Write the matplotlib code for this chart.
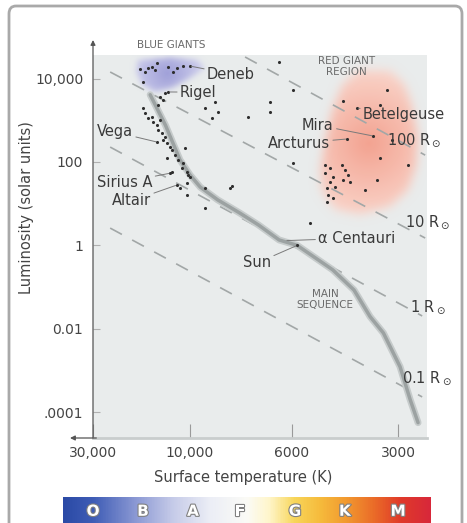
import numpy as np
import matplotlib
matplotlib.use('Agg')
import matplotlib.pyplot as plt
import matplotlib.patheffects as pe
from matplotlib.path import Path
from matplotlib.patches import FancyBboxPatch
from matplotlib.ticker import NullLocator
from matplotlib.colors import LinearSegmentedColormap, to_rgb

# ---------------- data ----------------
# field stars: surface temperature (K) and luminosity (solar units)
star_temp = [17600, 16600, 16100, 15400, 14500, 14900, 12800, 12100, 11600, 10800, 17000,
             14100, 13300, 13600, 14400,
             17000, 16600, 16100, 15400, 15200, 14500, 14100, 14400, 13700, 13600,
             13000, 12500, 13300, 12300, 11900, 11500, 13000, 12300, 10800, 10600,
             10300, 10900, 10000, 11200, 10300, 10300, 9270, 8180, 9270, 10200,
             9270, 8960, 8830, 8690, 7480, 6700, 6700, 6400, 5950, 5950, 8100,
             3220, 4300, 3370, 3120, 3370, 2810, 3440, 3720,
             4830, 4680, 4830, 4600, 4680, 4240, 4160, 4300, 4100, 4770, 4530, 4740,
             4770, 4600, 4330, 5330]
star_lum = [17000, 14400, 17900, 19000, 23700, 16100, 19000, 14400, 17900, 20000, 8300,
            3620, 4520, 3070, 2330,
            1970, 1500, 1135, 1200, 910, 770, 1015, 585, 495, 337,
            286, 229, 398, 194, 147, 112, 125, 58, 95, 217,
            58, 72, 44, 24, 31, 16, 24, 24, 7.9, 49,
            1970, 1135, 2750, 1580, 1200, 2750, 1580, 25000, 5330, 95, 27,
            5330, 2900, 2330, 337, 125, 85, 37, 21,
            85, 72, 54, 44, 33, 64, 49, 37, 33, 24, 25, 16,
            11, 13.7, 85, 3.4]

# named stars
named = ['Deneb', 'Rigel', 'Vega', 'Sirius A', 'Altair',
         'Betelgeuse', 'Mira', 'Arcturus', 'α Centauri', 'Sun']
named_temp = [10000, 12800, 14500, 12500, 11600, 3920, 3530, 4190, 6200, 5800]
named_lum = [20000, 4780, 300, 54, 28, 1970, 420, 356, 1.3, 1.0]

# main sequence band
ms_temp = [15700, 13200, 11200, 10000, 9500, 8700, 7800, 7100, 6400, 5800,
           4600, 4000, 3600, 3300, 2960, 2770, 2630]
ms_lum = [4100, 760, 112, 49, 25, 12.3, 6.0, 3.1, 1.35, 1.0,
          0.26, 0.085, 0.0195, 0.0079, 0.00123, 0.0002, 0.000056]

# lines of constant radius (end points)
radius_names = ['100 R$_\\odot$', '10 R$_\\odot$', '1 R$_\\odot$', '0.1 R$_\\odot$']
radius_temp = [(7590, 2510), (24700, 2510), (24700, 2560), (24700, 2560)]
radius_lum = [(33000, 146), (14400, 1.5), (228, 0.0203), (2.6, 0.000232)]

# giant regions
red_temp = [3920, 3160, 2865, 2735, 2630, 2650, 2805, 3160, 3850, 4530, 4930, 4990, 4830, 4620, 4330]
red_lum = [16000, 16000, 7100, 2350, 445, 85, 21, 8.3, 5.4, 7.1, 19, 64, 335, 1770, 7000]
blue_temp = [18200, 12500, 9600, 9270, 10000, 12200, 14900, 17200, 18400]
blue_lum = [27900, 33000, 27900, 17900, 10300, 5950, 4800, 7030, 14400]

temp_ticks = [30000, 10000, 6000, 3000]
temp_labels = ['30,000', '10,000', '6000', '3000']
lum_ticks = [1e4, 1e2, 1, 1e-2, 1e-4]
lum_labels = ['10,000', '100', '1', '0.01', '.0001']

classes = ['O', 'B', 'A', 'F', 'G', 'K', 'M']

# ---------------- temperature axis ----------------
# stretched by spectral class rather than a plain log axis (increasing in T)
t_knots = np.array([1000, 2480, 3000, 6000, 10000, 30000, 40000])
x_knots = np.array([-472, -334, -305, -199, -97, 0, 25])


def t_fwd(t):
    t = np.clip(np.asarray(t, float), 1, None)
    return np.interp(np.log10(t), np.log10(t_knots), x_knots)


def t_inv(x):
    return 10 ** np.interp(x, x_knots, np.log10(t_knots))


fig = plt.figure(figsize=(4.67, 5.23), dpi=100)
ax = fig.add_axes([93 / 467, 85 / 523, 334 / 467, 383 / 523])
ax.set_facecolor('#e9ecec')
ax.set_xscale('function', functions=(t_fwd, t_inv))
ax.set_yscale('log')
XLIM = (30000, 2480)
YLIM = (10 ** -4.62, 10 ** 4.566)
ax.set_xlim(*XLIM)
ax.set_ylim(*YLIM)


def gauss_blur(a, r):
    k = np.exp(-0.5 * (np.arange(-3 * r, 3 * r + 1) / r) ** 2)
    k /= k.sum()
    a = np.apply_along_axis(lambda m: np.convolve(m, k, 'same'), 0, a)
    return np.apply_along_axis(lambda m: np.convolve(m, k, 'same'), 1, a)


def soft_blob(temps, lums, inner, outer, blur=4, alpha=0.95):
    pts = ax.transAxes.inverted().transform(
        ax.transData.transform(np.column_stack([temps, lums])))
    w, h = 334, 383
    gx, gy = np.meshgrid((np.arange(w) + 0.5) / w, (np.arange(h) + 0.5) / h)
    grid = np.column_stack([gx.ravel(), gy.ravel()])
    mask = Path(np.vstack([pts, pts[:1]])).contains_points(grid).reshape(h, w)
    mask = np.clip(gauss_blur(mask.astype(float), blur), 0, 1)
    cx, cy = pts.mean(axis=0)
    d = np.hypot((gx - cx) * w, (gy - cy) * h)
    rad = np.max(np.hypot((pts[:, 0] - cx) * w, (pts[:, 1] - cy) * h))
    t = np.clip(d / rad, 0, 1)[..., None]
    rgb = np.array(to_rgb(inner)) * (1 - t) + np.array(to_rgb(outer)) * t
    img = np.dstack([rgb, mask * alpha])
    ax.imshow(img, extent=(0, 1, 0, 1), origin='lower', transform=ax.transAxes,
              aspect='auto', zorder=1, interpolation='bilinear')


soft_blob(red_temp, red_lum, '#f49f8c', '#fbd4c9', blur=5)
soft_blob(blue_temp, blue_lum, '#9d9dd8', '#cfcfee', blur=3)
ax.set_xlim(*XLIM)
ax.set_ylim(*YLIM)

# constant radius lines
for (t0, t1), (l0, l1) in zip(radius_temp, radius_lum):
    ax.plot([t0, t1], [l0, l1], color='#a2a7a7', lw=1.2, dashes=(8, 7), zorder=2)

# main sequence band
ax.plot(ms_temp, ms_lum, color='#c6cbcb', lw=5, solid_capstyle='round',
        solid_joinstyle='round', zorder=3)
ax.plot(ms_temp, ms_lum, color='#9ca2a2', lw=2.5, solid_capstyle='round',
        solid_joinstyle='round', zorder=3)

# stars
ax.scatter(star_temp, star_lum, s=5, color='#2e2e2e', lw=0, zorder=4)
ax.scatter(named_temp[:8] + named_temp[9:], named_lum[:8] + named_lum[9:],
           s=5, color='#2e2e2e', lw=0, zorder=4)

# star labels with leaders (text anchor in axes fraction)
lab = dict(fontsize=10.5, color='#3a3a3a', ha='left', va='center',
           textcoords='axes fraction', annotation_clip=False, zorder=6)
lead = dict(arrowstyle='-', color='#7a7a7a', lw=0.7, shrinkA=0, shrinkB=1)
label_pos = {
    'Deneb': (0.341, 0.950), 'Rigel': (0.260, 0.903), 'Vega': (0.012, 0.799),
    'Sirius A': (0.012, 0.668), 'Altair': (0.057, 0.619), 'Betelgeuse': (0.808, 0.845),
    'Mira': (0.626, 0.817), 'Arcturus': (0.524, 0.770), 'α Centauri': (0.674, 0.522),
    'Sun': (0.449, 0.457),
}
for name, t, l in zip(named, named_temp, named_lum):
    ax.annotate(name, xy=(t, l), xytext=label_pos[name], arrowprops=lead, **lab)

# radius labels
for name, pos in zip(radius_names, [(0.880, 0.778), (0.934, 0.564), (0.949, 0.342), (0.925, 0.157)]):
    ax.text(*pos, name, transform=ax.transAxes, fontsize=10.5, color='#3a3a3a',
            ha='left', va='center', clip_on=False, zorder=6)

small = dict(transform=ax.transAxes, fontsize=7.5, color='#6a6a6a', ha='center',
             va='center', clip_on=False, zorder=6, linespacing=1.1)
ax.text(0.234, 1.026, 'BLUE GIANTS', **small)
ax.text(0.760, 0.970, 'RED GIANT\nREGION', **small)
ax.text(0.695, 0.362, 'MAIN\nSEQUENCE', **small)

# axes, ticks, arrows
for s in ['top', 'right', 'left']:
    ax.spines[s].set_visible(False)
ax.spines['bottom'].set_color('#c9cdcd')
ax.spines['bottom'].set_linewidth(2)
arr = dict(arrowstyle='-|>', color='#555555', lw=0.9, mutation_scale=7, shrinkA=0, shrinkB=0)
ax.annotate('', xy=(0, 1 + 15 / 383), xytext=(0, 0), xycoords='axes fraction',
            arrowprops=arr, annotation_clip=False)
ax.annotate('', xy=(-23 / 334, 0), xytext=(0.01, 0), xycoords='axes fraction',
            arrowprops=arr, annotation_clip=False)

ax.set_xticks(temp_ticks)
ax.set_xticklabels(temp_labels)
ax.xaxis.set_minor_locator(NullLocator())
ax.set_yticks(lum_ticks)
ax.set_yticklabels(lum_labels)
ax.yaxis.set_minor_locator(NullLocator())
ax.tick_params(axis='x', direction='in', length=10, width=0.8, color='#9a9a9a',
               pad=6, labelsize=10, labelcolor='#444444')
ax.tick_params(axis='y', direction='in', length=5, width=0.8, color='#b0b0b0',
               pad=7, labelsize=10, labelcolor='#444444')

ax.set_xlabel('Surface temperature (K)', fontsize=10.5, color='#444444')
ax.xaxis.set_label_coords(0.449, -0.104)
ax.xaxis.label.set_va('center')
ax.set_ylabel('Luminosity (solar units)', fontsize=10.5, color='#444444')
ax.yaxis.set_label_coords(-66 / 334, 230 / 383)
ax.yaxis.label.set_va('center')

# spectral class strip
cax = fig.add_axes([63 / 467, 0, 367 / 467, 26 / 523])
strip = LinearSegmentedColormap.from_list('spectral', [
    (0.0, '#2b4aa6'), (0.08, '#3f5db6'), (0.2, '#8e9bd5'), (0.3, '#c7cce9'),
    (0.4, '#eceef6'), (0.5, '#fbfbf6'), (0.56, '#fff6cc'), (0.63, '#f8d65a'),
    (0.7, '#f6bb3c'), (0.77, '#f29a30'), (0.85, '#ea6a28'), (0.92, '#e03a2a'),
    (1.0, '#d8283a')])
cax.imshow(np.linspace(0, 1, 400)[None, :], cmap=strip, aspect='auto',
           extent=(0, 1, 0, 1))
cax.set_axis_off()
for c, xc in zip(classes, [0.082, 0.218, 0.354, 0.482, 0.632, 0.768, 0.913]):
    cax.text(xc, 0.45, c, transform=cax.transAxes, ha='center', va='center',
             fontsize=11, fontweight='bold', color='white',
             path_effects=[pe.withStroke(linewidth=1.6, foreground='#808080')])

# outer frame
fig.patches.append(FancyBboxPatch((9 / 467, -0.05), 453 / 467, 1.05 - 6 / 523,
                                  boxstyle='round,pad=0,rounding_size=0.015',
                                  transform=fig.transFigure, fill=False,
                                  ec='#a9a9a9', lw=2))

fig.savefig('out.png', dpi=100)
